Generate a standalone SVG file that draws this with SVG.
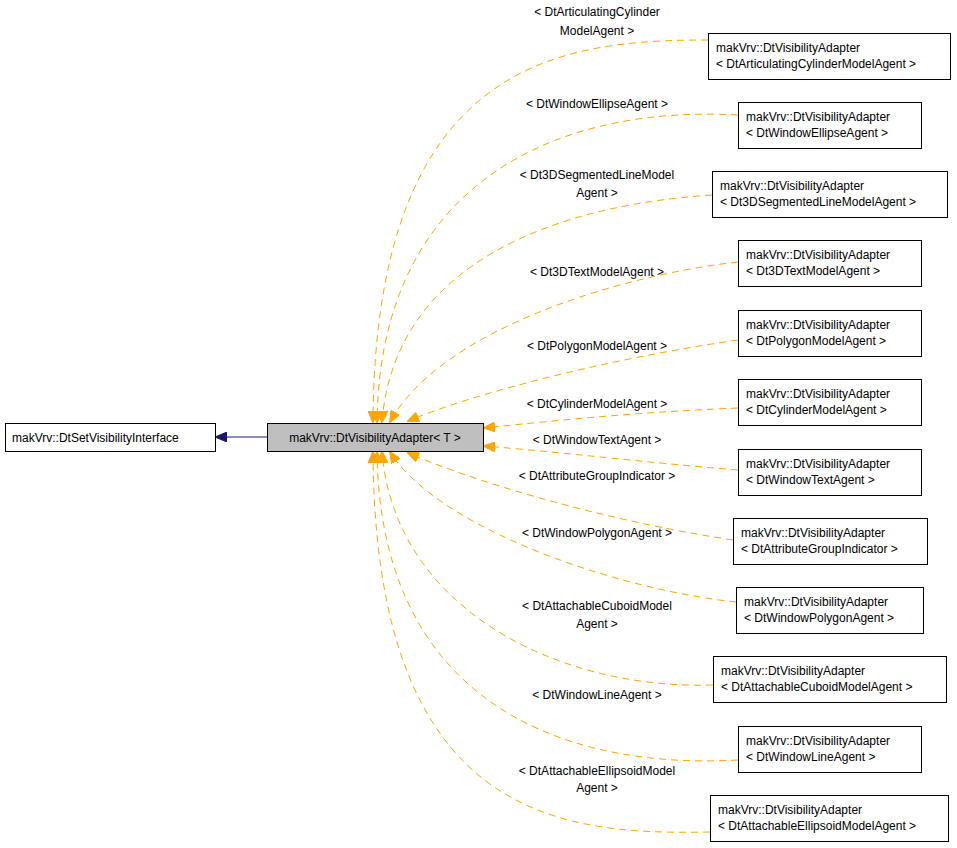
<svg xmlns="http://www.w3.org/2000/svg" width="957" height="848" viewBox="0 0 957 848">
<style>
text{font-family:"Liberation Sans",Arial,sans-serif;font-size:12px;fill:#000}
.b{fill:#fff;stroke:#000;stroke-width:1}
.e{fill:none;stroke:#ffa500;stroke-width:1;stroke-dasharray:7,5}
.m{text-anchor:middle}
</style>
<defs>
<marker id="ao" markerWidth="12" markerHeight="10" refX="11" refY="5" orient="auto" markerUnits="userSpaceOnUse"><path d="M0,0 L12,5 L0,10 Z" fill="#ffa500" stroke="#ffa500"/></marker>
<marker id="an" markerWidth="12" markerHeight="10" refX="11" refY="5" orient="auto" markerUnits="userSpaceOnUse"><path d="M0,0 L12,5 L0,10 Z" fill="#191970" stroke="#191970"/></marker>
</defs>
<g id="edges">
<line x1="267" y1="437" x2="216" y2="437" stroke="#191970" marker-end="url(#an)"/>
<path class="e" marker-end="url(#ao)" d="M708,40 C560,40 375,60 373,422"/>
<path class="e" marker-end="url(#ao)" d="M738,115 C560,105 380,180 377,422"/>
<path class="e" marker-end="url(#ao)" d="M712,195 C560,205 395,260 382,422"/>
<path class="e" marker-end="url(#ao)" d="M738,262 C620,275 440,330 390,422"/>
<path class="e" marker-end="url(#ao)" d="M738,340 C600,360 470,395 408,421"/>
<path class="e" marker-end="url(#ao)" d="M738,408 C640,412 560,420 484,428"/>
<path class="e" marker-end="url(#ao)" d="M738,470 C640,462 560,452 484,446"/>
<path class="e" marker-end="url(#ao)" d="M733,540 C600,520 470,480 408,453"/>
<path class="e" marker-end="url(#ao)" d="M736,602 C620,590 440,530 390,452"/>
<path class="e" marker-end="url(#ao)" d="M713,685 C560,690 395,610 382,452"/>
<path class="e" marker-end="url(#ao)" d="M738,760 C560,770 380,700 377,452"/>
<path class="e" marker-end="url(#ao)" d="M710,832 C560,835 375,820 373,452"/>
</g>
<g id="labels">
<text class="m" x="597" y="16">&lt; DtArticulatingCylinder</text><text class="m" x="597" y="35">ModelAgent &gt;</text>
<text class="m" x="597" y="108">&lt; DtWindowEllipseAgent &gt;</text>
<text class="m" x="597" y="179">&lt; Dt3DSegmentedLineModel</text><text class="m" x="597" y="197">Agent &gt;</text>
<text class="m" x="597" y="276">&lt; Dt3DTextModelAgent &gt;</text>
<text class="m" x="597" y="350">&lt; DtPolygonModelAgent &gt;</text>
<text class="m" x="597" y="408">&lt; DtCylinderModelAgent &gt;</text>
<text class="m" x="597" y="444">&lt; DtWindowTextAgent &gt;</text>
<text class="m" x="597" y="480">&lt; DtAttributeGroupIndicator &gt;</text>
<text class="m" x="597" y="537">&lt; DtWindowPolygonAgent &gt;</text>
<text class="m" x="597" y="610">&lt; DtAttachableCuboidModel</text><text class="m" x="597" y="628">Agent &gt;</text>
<text class="m" x="597" y="699">&lt; DtWindowLineAgent &gt;</text>
<text class="m" x="597" y="775">&lt; DtAttachableEllipsoidModel</text><text class="m" x="597" y="792">Agent &gt;</text>
</g>
<g id="n_iface"><rect class="b" x="5.5" y="423.5" width="210" height="28"/><text x="12" y="442">makVrv::DtSetVisibilityInterface</text></g>
<g id="n_adapter"><rect x="267.5" y="423.5" width="216" height="28" fill="#bfbfbf" stroke="#000"/><text class="m" x="375" y="442">makVrv::DtVisibilityAdapter&lt; T &gt;</text></g>
<g id="n1"><rect class="b" x="708.5" y="33.5" width="242" height="46"/><text x="716" y="52">makVrv::DtVisibilityAdapter</text><text x="716" y="68">&lt; DtArticulatingCylinderModelAgent &gt;</text></g>
<g id="n2"><rect class="b" x="738.5" y="102.5" width="183" height="46"/><text x="746" y="121">makVrv::DtVisibilityAdapter</text><text x="746" y="137">&lt; DtWindowEllipseAgent &gt;</text></g>
<g id="n3"><rect class="b" x="712.5" y="171.5" width="235" height="46"/><text x="720" y="190">makVrv::DtVisibilityAdapter</text><text x="720" y="206">&lt; Dt3DSegmentedLineModelAgent &gt;</text></g>
<g id="n4"><rect class="b" x="738.5" y="240.5" width="183" height="46"/><text x="746" y="259">makVrv::DtVisibilityAdapter</text><text x="746" y="275">&lt; Dt3DTextModelAgent &gt;</text></g>
<g id="n5"><rect class="b" x="738.5" y="310.5" width="183" height="46"/><text x="746" y="329">makVrv::DtVisibilityAdapter</text><text x="746" y="345">&lt; DtPolygonModelAgent &gt;</text></g>
<g id="n6"><rect class="b" x="738.5" y="379.5" width="183" height="46"/><text x="746" y="398">makVrv::DtVisibilityAdapter</text><text x="746" y="414">&lt; DtCylinderModelAgent &gt;</text></g>
<g id="n7"><rect class="b" x="738.5" y="449.5" width="183" height="46"/><text x="746" y="468">makVrv::DtVisibilityAdapter</text><text x="746" y="484">&lt; DtWindowTextAgent &gt;</text></g>
<g id="n8"><rect class="b" x="733.5" y="518.5" width="194" height="46"/><text x="741" y="537">makVrv::DtVisibilityAdapter</text><text x="741" y="553">&lt; DtAttributeGroupIndicator &gt;</text></g>
<g id="n9"><rect class="b" x="736.5" y="587.5" width="187" height="46"/><text x="744" y="606">makVrv::DtVisibilityAdapter</text><text x="744" y="622">&lt; DtWindowPolygonAgent &gt;</text></g>
<g id="n10"><rect class="b" x="713.5" y="656.5" width="233" height="46"/><text x="721" y="675">makVrv::DtVisibilityAdapter</text><text x="721" y="691">&lt; DtAttachableCuboidModelAgent &gt;</text></g>
<g id="n11"><rect class="b" x="738.5" y="726.5" width="183" height="46"/><text x="746" y="745">makVrv::DtVisibilityAdapter</text><text x="746" y="761">&lt; DtWindowLineAgent &gt;</text></g>
<g id="n12"><rect class="b" x="710.5" y="795.5" width="238" height="46"/><text x="718" y="814">makVrv::DtVisibilityAdapter</text><text x="718" y="830">&lt; DtAttachableEllipsoidModelAgent &gt;</text></g>
</svg>
